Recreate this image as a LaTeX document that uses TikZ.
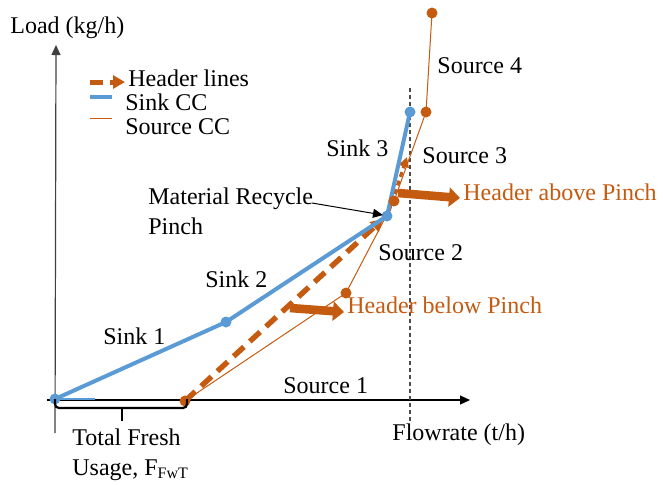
\documentclass[tikz,border=0pt]{standalone}
\usepackage{fontspec}
\setmainfont{Liberation Serif}
\usetikzlibrary{arrows.meta}
\definecolor{sinkblue}{HTML}{5B9BD5}
\definecolor{srcorange}{HTML}{C55A11}
\tikzset{
  lbl/.style={anchor=base west,inner sep=0pt,font=\fontsize{12}{14}\selectfont},
  olbl/.style={lbl,text=srcorange},
  sinkline/.style={draw=sinkblue,line width=2pt,line join=round},
  srcline/.style={draw=srcorange,line width=0.5pt},
  headerline/.style={draw=srcorange,line width=2.7pt,dash pattern=on 7pt off 4pt,-{Triangle[length=6pt,width=6.5pt]}},
  headerup/.style={draw=srcorange,line width=1.6pt,dash pattern=on 2.5pt off 2pt,-{Triangle[length=5pt,width=5pt]}},
  bigarrow/.style={draw=srcorange,line width=4.3pt,-{Triangle[length=5.5pt,width=9.5pt]}},
  bdot/.style={circle,fill=sinkblue,inner sep=0pt,minimum size=5.5pt},
  odot/.style={circle,fill=srcorange,inner sep=0pt,minimum size=5.5pt},
  axis/.style={draw=black,line width=0.6pt,-{Triangle[length=5pt,width=4.5pt]}},
}
\begin{document}
\begin{tikzpicture}[x=0.5pt,y=-0.5pt]
\useasboundingbox (0,0) rectangle (663,484);
% axes
\coordinate (yb) at (55,433);
\coordinate (yt) at (56,45);
\coordinate (xl) at (47,400);
\coordinate (xr) at (470,400);
\draw[axis,draw=black!75] (yb) -- (yt);
\draw[axis] (xl) -- (xr);
% dotted vertical
\coordinate (vt) at (410,88);
\coordinate (vb) at (410,424);
\draw[black!70,line width=0.6pt,dash pattern=on 2pt off 1.5pt] (vt) -- (vb);
% points
\coordinate (k0) at (55,399);
\coordinate (k1) at (226,322);
\coordinate (k2) at (387,216);
\coordinate (k3) at (410,112);
\coordinate (s0) at (185,401);
\coordinate (s1) at (346,293);
\coordinate (s2) at (394,201);
\coordinate (s3) at (426,112);
\coordinate (s4) at (432,13);
\coordinate (kb) at (95,399);
% source CC
\draw[srcline] (s0) -- (s1) -- (s2) -- (s3) -- (s4);
% header lines
\coordinate (h1) at (383,219);
\coordinate (h2) at (389,211);
\coordinate (h3) at (407,157);
\draw[headerline] (s0) -- (h1);
\draw[headerup] (h2) -- (h3);
% sink CC
\draw[sinkblue,line width=1pt] (k0) -- (kb);
\draw[sinkline] (k0) -- (k1) -- (k2) -- (k3);
% dots
\foreach \p in {k0,k1,k2,k3} \node[bdot] at (\p) {};
\foreach \p in {s0,s1,s2,s3,s4} \node[odot] at (\p) {};
% pinch arrow
\coordinate (pa) at (312,203);
\coordinate (pb) at (383,215);
\draw[black,line width=0.5pt,-{Triangle[length=5pt,width=4.5pt]}] (pa) -- (pb);
% big header arrows
\coordinate (ba1) at (290,308);
\coordinate (ba2) at (344,312);
\draw[bigarrow] (ba1) -- (ba2);
\coordinate (bb1) at (398,193);
\coordinate (bb2) at (460,198);
\draw[bigarrow] (bb1) -- (bb2);
% brace
\coordinate (br1) at (55,399);
\coordinate (br2) at (187,399);
\coordinate (brm) at (122,421);
\draw[black,line width=1.1pt,rounded corners=2pt] (br1) |- (122,408) -| (br2);
\draw[black,line width=1.1pt] (122,408) -- (brm);
% legend
\coordinate (lg1) at (90,82);
\coordinate (lg2) at (125,82);
\draw[draw=srcorange,line width=2.5pt,dash pattern=on 6.5pt off 3.5pt,-{Triangle[length=6pt,width=6.5pt]}] (lg1) -- (lg2);
\coordinate (lb1) at (90,97);
\coordinate (lb2) at (112,97);
\draw[sinkline] (lb1) -- (lb2);
\coordinate (lo1) at (90,118);
\coordinate (lo2) at (112,118);
\draw[srcline] (lo1) -- (lo2);
\node[lbl] (tl1) at (128,86) {Header lines};
\node[lbl] (tl2) at (125,110) {Sink CC};
\node[lbl] (tl3) at (125,134) {Source CC};
% labels
\node[lbl] (tload) at (10,33) {Load (kg/h)};
\node[lbl] (tflow) at (392,440) {Flowrate (t/h)};
\node[lbl] (tsrc4) at (437,73) {Source 4};
\node[lbl] (tsink3) at (326,156) {Sink 3};
\node[lbl] (tsrc3) at (422,163) {Source 3};
\node[olbl] (tabove) at (463,200) {Header above Pinch};
\node[lbl] (tmat) at (148,204) {Material Recycle};
\node[lbl] (tpinch) at (148,234) {Pinch};
\node[lbl] (tsrc2) at (378,260) {Source 2};
\node[lbl] (tsink2) at (205,287) {Sink 2};
\node[olbl] (tbelow) at (347,313) {Header below Pinch};
\node[lbl] (tsink1) at (103,344) {Sink 1};
\node[lbl] (tsrc1) at (283,393) {Source 1};
\node[lbl] (ttot) at (72,445) {Total Fresh};
\node[lbl] (tuse) at (72,475) {Usage, F\textsubscript{FwT}};
\end{tikzpicture}
\end{document}
